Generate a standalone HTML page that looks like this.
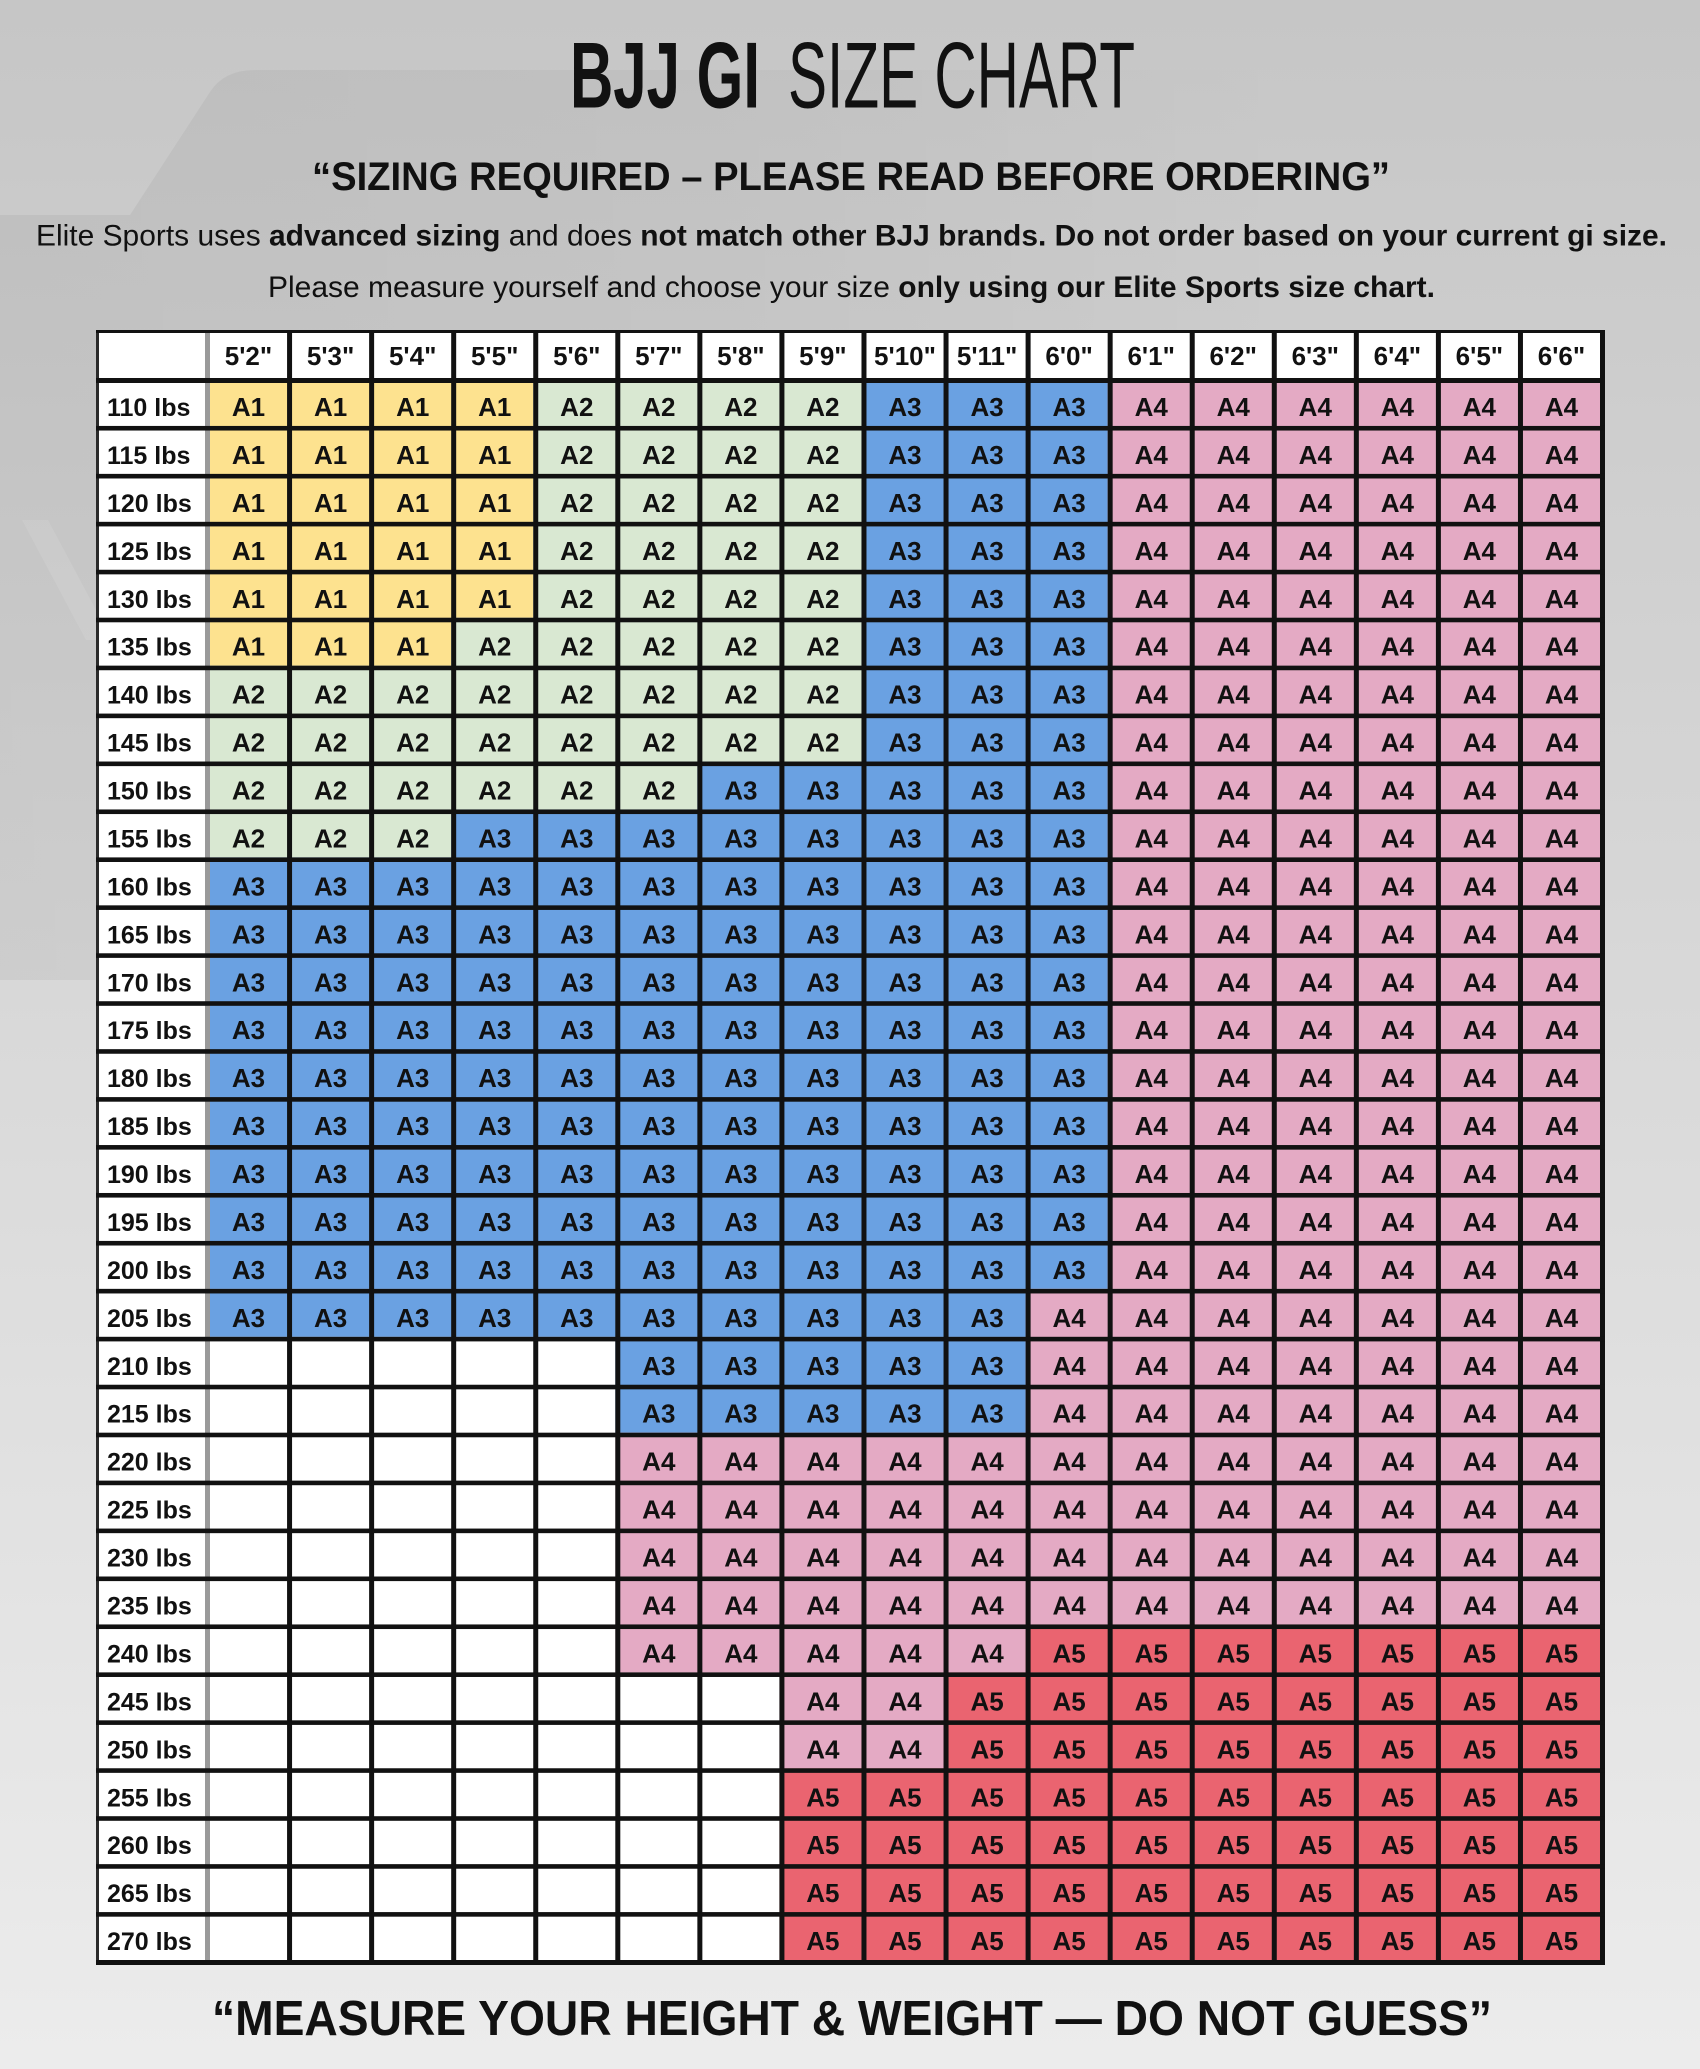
<!DOCTYPE html>
<html>
<head>
<meta charset="utf-8">
<style>
html,body{margin:0;padding:0;background:#d8d8d8}
body{width:1700px;height:2069px;overflow:hidden}
svg{display:block}
</style>
</head>
<body>
<svg width="1700" height="2069" viewBox="0 0 1700 2069" xmlns="http://www.w3.org/2000/svg">
<defs>
<linearGradient id="bg" x1="0" y1="0" x2="0" y2="1">
<stop offset="0" stop-color="#c6c6c6"/>
<stop offset="0.5" stop-color="#d9d9d9"/>
<stop offset="1" stop-color="#ececec"/>
</linearGradient>
<linearGradient id="logo" gradientUnits="userSpaceOnUse" x1="0" y1="0" x2="1300" y2="0">
<stop offset="0" stop-color="#000" stop-opacity="0.05"/>
<stop offset="0.55" stop-color="#000" stop-opacity="0.035"/>
<stop offset="1" stop-color="#000" stop-opacity="0"/>
</linearGradient>
</defs>
<rect width="1700" height="2069" fill="url(#bg)"/>
<path d="M0 215 L130 215 L210 92 Q224 70 255 70 L1300 70 L1300 330 L97 330 L97 980 L0 980 Z" fill="url(#logo)"/>
<path d="M22 520 L48 520 L112 640 L86 640 Z" fill="#fff" fill-opacity="0.1"/>

<!-- Headings -->
<g fill="#111" font-family="'Liberation Sans', Arial, sans-serif">
<text x="570" y="107.5" font-size="94" font-weight="bold" textLength="190" lengthAdjust="spacingAndGlyphs">BJJ GI</text>
<text x="788" y="107.5" font-size="94" textLength="347" lengthAdjust="spacingAndGlyphs">SIZE CHART</text>
<text x="312" y="190" font-size="40" font-weight="bold" textLength="1078" lengthAdjust="spacingAndGlyphs">“SIZING REQUIRED – PLEASE READ BEFORE ORDERING”</text>
<text x="36" y="245.5" font-size="30" textLength="1631" lengthAdjust="spacingAndGlyphs">Elite Sports uses <tspan font-weight="bold">advanced sizing</tspan> and does <tspan font-weight="bold">not match other BJJ brands. Do not order based on your current gi size.</tspan></text>
<text x="268" y="297" font-size="30" textLength="1167" lengthAdjust="spacingAndGlyphs">Please measure yourself and choose your size <tspan font-weight="bold">only using our Elite Sports size chart.</tspan></text>
<text x="212" y="2035" font-size="49" font-weight="bold" textLength="1280" lengthAdjust="spacingAndGlyphs">“MEASURE YOUR HEIGHT &amp; WEIGHT — DO NOT GUESS”</text>
</g>

<!-- Table background -->
<rect x="96" y="330" width="1509" height="1635" fill="#ffffff"/>

<!-- Yellow A1 -->
<g fill="#fde28f">
<rect x="205" y="378" width="328.24" height="239.7"/>
<rect x="205" y="617.7" width="246.18" height="47.94"/>
</g>
<!-- Green A2 -->
<g fill="#d9e8d2">
<rect x="533.24" y="378" width="328.24" height="239.7"/>
<rect x="451.18" y="617.7" width="410.3" height="47.94"/>
<rect x="205" y="665.64" width="656.48" height="95.88"/>
<rect x="205" y="761.52" width="492.36" height="47.94"/>
<rect x="205" y="809.46" width="246.18" height="47.94"/>
</g>
<!-- Blue A3 -->
<g fill="#6aa1e2">
<rect x="861.48" y="378" width="246.18" height="383.52"/>
<rect x="697.36" y="761.52" width="410.3" height="47.94"/>
<rect x="451.18" y="809.46" width="656.48" height="47.94"/>
<rect x="205" y="857.4" width="902.66" height="431.46"/>
<rect x="205" y="1288.86" width="820.6" height="47.94"/>
<rect x="615.3" y="1336.8" width="410.3" height="95.88"/>
</g>
<!-- Pink A4 -->
<g fill="#e4aac4">
<rect x="1107.66" y="378" width="492.36" height="910.86"/>
<rect x="1025.6" y="1288.86" width="574.42" height="335.58"/>
<rect x="615.3" y="1432.68" width="410.3" height="239.7"/>
<rect x="779.42" y="1672.38" width="164.12" height="95.88"/>
</g>
<!-- Red A5 -->
<g fill="#ea6470">
<rect x="1025.6" y="1624.44" width="574.42" height="47.94"/>
<rect x="943.54" y="1672.38" width="656.48" height="95.88"/>
<rect x="779.42" y="1768.26" width="820.6" height="191.76"/>
</g>

<!-- Gray separator -->
<rect x="205" y="333" width="5" height="1627" fill="#9a9a9a"/>

<!-- Vertical lines -->
<g fill="#111">
<rect x="287.06" y="330" width="5" height="1635"/>
<rect x="369.12" y="330" width="5" height="1635"/>
<rect x="451.18" y="330" width="5" height="1635"/>
<rect x="533.24" y="330" width="5" height="1635"/>
<rect x="615.3" y="330" width="5" height="1635"/>
<rect x="697.36" y="330" width="5" height="1635"/>
<rect x="779.42" y="330" width="5" height="1635"/>
<rect x="861.48" y="330" width="5" height="1635"/>
<rect x="943.54" y="330" width="5" height="1635"/>
<rect x="1025.6" y="330" width="5" height="1635"/>
<rect x="1107.66" y="330" width="5" height="1635"/>
<rect x="1189.72" y="330" width="5" height="1635"/>
<rect x="1271.78" y="330" width="5" height="1635"/>
<rect x="1353.84" y="330" width="5" height="1635"/>
<rect x="1435.9" y="330" width="5" height="1635"/>
<rect x="1517.96" y="330" width="5" height="1635"/>
<rect x="1600" y="330" width="5" height="1635"/>
<rect x="96" y="330" width="3" height="1635" fill="#2a2a2a"/>
</g>

<!-- Horizontal lines -->
<g fill="#111">
<rect x="96" y="330" width="1509" height="3"/>
<rect x="96" y="378" width="1509" height="5"/>
<rect x="96" y="425.94" width="1509" height="4.6"/>
<rect x="96" y="473.88" width="1509" height="4.6"/>
<rect x="96" y="521.82" width="1509" height="4.6"/>
<rect x="96" y="569.76" width="1509" height="4.6"/>
<rect x="96" y="617.7" width="1509" height="4.6"/>
<rect x="96" y="665.64" width="1509" height="4.6"/>
<rect x="96" y="713.58" width="1509" height="4.6"/>
<rect x="96" y="761.52" width="1509" height="4.6"/>
<rect x="96" y="809.46" width="1509" height="4.6"/>
<rect x="96" y="857.4" width="1509" height="4.6"/>
<rect x="96" y="905.34" width="1509" height="4.6"/>
<rect x="96" y="953.28" width="1509" height="4.6"/>
<rect x="96" y="1001.22" width="1509" height="4.6"/>
<rect x="96" y="1049.16" width="1509" height="4.6"/>
<rect x="96" y="1097.1" width="1509" height="4.6"/>
<rect x="96" y="1145.04" width="1509" height="4.6"/>
<rect x="96" y="1192.98" width="1509" height="4.6"/>
<rect x="96" y="1240.92" width="1509" height="4.6"/>
<rect x="96" y="1288.86" width="1509" height="4.6"/>
<rect x="96" y="1336.8" width="1509" height="4.6"/>
<rect x="96" y="1384.74" width="1509" height="4.6"/>
<rect x="96" y="1432.68" width="1509" height="4.6"/>
<rect x="96" y="1480.62" width="1509" height="4.6"/>
<rect x="96" y="1528.56" width="1509" height="4.6"/>
<rect x="96" y="1576.5" width="1509" height="4.6"/>
<rect x="96" y="1624.44" width="1509" height="4.6"/>
<rect x="96" y="1672.38" width="1509" height="4.6"/>
<rect x="96" y="1720.32" width="1509" height="4.6"/>
<rect x="96" y="1768.26" width="1509" height="4.6"/>
<rect x="96" y="1816.2" width="1509" height="4.6"/>
<rect x="96" y="1864.14" width="1509" height="4.6"/>
<rect x="96" y="1912.08" width="1509" height="4.6"/>
<rect x="96" y="1960" width="1509" height="5"/>
</g>

<!-- Header labels -->
<g fill="#111" font-family="'Liberation Sans', Arial, sans-serif" font-size="26" font-weight="bold" text-anchor="middle">
<text x="248.5" y="365">5'2"</text>
<text x="330.6" y="365">5'3"</text>
<text x="412.7" y="365">5'4"</text>
<text x="494.7" y="365">5'5"</text>
<text x="576.8" y="365">5'6"</text>
<text x="658.8" y="365">5'7"</text>
<text x="740.9" y="365">5'8"</text>
<text x="822.9" y="365">5'9"</text>
<text x="905.0" y="365">5'10"</text>
<text x="987.1" y="365">5'11"</text>
<text x="1069.1" y="365">6'0"</text>
<text x="1151.2" y="365">6'1"</text>
<text x="1233.2" y="365">6'2"</text>
<text x="1315.3" y="365">6'3"</text>
<text x="1397.4" y="365">6'4"</text>
<text x="1479.4" y="365">6'5"</text>
<text x="1561.5" y="365">6'6"</text>
</g>

<!-- Weight labels -->
<g fill="#111" font-family="'Liberation Sans', Arial, sans-serif" font-size="25" font-weight="bold">
<text x="107" y="416">110 lbs</text>
<text x="107" y="463.94">115 lbs</text>
<text x="107" y="511.88">120 lbs</text>
<text x="107" y="559.82">125 lbs</text>
<text x="107" y="607.76">130 lbs</text>
<text x="107" y="655.7">135 lbs</text>
<text x="107" y="703.64">140 lbs</text>
<text x="107" y="751.58">145 lbs</text>
<text x="107" y="799.52">150 lbs</text>
<text x="107" y="847.46">155 lbs</text>
<text x="107" y="895.4">160 lbs</text>
<text x="107" y="943.34">165 lbs</text>
<text x="107" y="991.28">170 lbs</text>
<text x="107" y="1039.22">175 lbs</text>
<text x="107" y="1087.16">180 lbs</text>
<text x="107" y="1135.1">185 lbs</text>
<text x="107" y="1183.04">190 lbs</text>
<text x="107" y="1230.98">195 lbs</text>
<text x="107" y="1278.92">200 lbs</text>
<text x="107" y="1326.86">205 lbs</text>
<text x="107" y="1374.8">210 lbs</text>
<text x="107" y="1422.74">215 lbs</text>
<text x="107" y="1470.68">220 lbs</text>
<text x="107" y="1518.62">225 lbs</text>
<text x="107" y="1566.56">230 lbs</text>
<text x="107" y="1614.5">235 lbs</text>
<text x="107" y="1662.44">240 lbs</text>
<text x="107" y="1710.38">245 lbs</text>
<text x="107" y="1758.32">250 lbs</text>
<text x="107" y="1806.26">255 lbs</text>
<text x="107" y="1854.2">260 lbs</text>
<text x="107" y="1902.14">265 lbs</text>
<text x="107" y="1950.08">270 lbs</text>
</g>

<!-- Cell values -->
<g fill="#111" font-family="'Liberation Sans', Arial, sans-serif" font-size="26" font-weight="bold" text-anchor="middle">
<g transform="translate(0,416)"><text x="248.5">A1</text><text x="330.6">A1</text><text x="412.7">A1</text><text x="494.7">A1</text><text x="576.8">A2</text><text x="658.8">A2</text><text x="740.9">A2</text><text x="822.9">A2</text><text x="905.0">A3</text><text x="987.1">A3</text><text x="1069.1">A3</text><text x="1151.2">A4</text><text x="1233.2">A4</text><text x="1315.3">A4</text><text x="1397.4">A4</text><text x="1479.4">A4</text><text x="1561.5">A4</text></g>
<g transform="translate(0,463.94)"><text x="248.5">A1</text><text x="330.6">A1</text><text x="412.7">A1</text><text x="494.7">A1</text><text x="576.8">A2</text><text x="658.8">A2</text><text x="740.9">A2</text><text x="822.9">A2</text><text x="905.0">A3</text><text x="987.1">A3</text><text x="1069.1">A3</text><text x="1151.2">A4</text><text x="1233.2">A4</text><text x="1315.3">A4</text><text x="1397.4">A4</text><text x="1479.4">A4</text><text x="1561.5">A4</text></g>
<g transform="translate(0,511.88)"><text x="248.5">A1</text><text x="330.6">A1</text><text x="412.7">A1</text><text x="494.7">A1</text><text x="576.8">A2</text><text x="658.8">A2</text><text x="740.9">A2</text><text x="822.9">A2</text><text x="905.0">A3</text><text x="987.1">A3</text><text x="1069.1">A3</text><text x="1151.2">A4</text><text x="1233.2">A4</text><text x="1315.3">A4</text><text x="1397.4">A4</text><text x="1479.4">A4</text><text x="1561.5">A4</text></g>
<g transform="translate(0,559.82)"><text x="248.5">A1</text><text x="330.6">A1</text><text x="412.7">A1</text><text x="494.7">A1</text><text x="576.8">A2</text><text x="658.8">A2</text><text x="740.9">A2</text><text x="822.9">A2</text><text x="905.0">A3</text><text x="987.1">A3</text><text x="1069.1">A3</text><text x="1151.2">A4</text><text x="1233.2">A4</text><text x="1315.3">A4</text><text x="1397.4">A4</text><text x="1479.4">A4</text><text x="1561.5">A4</text></g>
<g transform="translate(0,607.76)"><text x="248.5">A1</text><text x="330.6">A1</text><text x="412.7">A1</text><text x="494.7">A1</text><text x="576.8">A2</text><text x="658.8">A2</text><text x="740.9">A2</text><text x="822.9">A2</text><text x="905.0">A3</text><text x="987.1">A3</text><text x="1069.1">A3</text><text x="1151.2">A4</text><text x="1233.2">A4</text><text x="1315.3">A4</text><text x="1397.4">A4</text><text x="1479.4">A4</text><text x="1561.5">A4</text></g>
<g transform="translate(0,655.7)"><text x="248.5">A1</text><text x="330.6">A1</text><text x="412.7">A1</text><text x="494.7">A2</text><text x="576.8">A2</text><text x="658.8">A2</text><text x="740.9">A2</text><text x="822.9">A2</text><text x="905.0">A3</text><text x="987.1">A3</text><text x="1069.1">A3</text><text x="1151.2">A4</text><text x="1233.2">A4</text><text x="1315.3">A4</text><text x="1397.4">A4</text><text x="1479.4">A4</text><text x="1561.5">A4</text></g>
<g transform="translate(0,703.64)"><text x="248.5">A2</text><text x="330.6">A2</text><text x="412.7">A2</text><text x="494.7">A2</text><text x="576.8">A2</text><text x="658.8">A2</text><text x="740.9">A2</text><text x="822.9">A2</text><text x="905.0">A3</text><text x="987.1">A3</text><text x="1069.1">A3</text><text x="1151.2">A4</text><text x="1233.2">A4</text><text x="1315.3">A4</text><text x="1397.4">A4</text><text x="1479.4">A4</text><text x="1561.5">A4</text></g>
<g transform="translate(0,751.58)"><text x="248.5">A2</text><text x="330.6">A2</text><text x="412.7">A2</text><text x="494.7">A2</text><text x="576.8">A2</text><text x="658.8">A2</text><text x="740.9">A2</text><text x="822.9">A2</text><text x="905.0">A3</text><text x="987.1">A3</text><text x="1069.1">A3</text><text x="1151.2">A4</text><text x="1233.2">A4</text><text x="1315.3">A4</text><text x="1397.4">A4</text><text x="1479.4">A4</text><text x="1561.5">A4</text></g>
<g transform="translate(0,799.52)"><text x="248.5">A2</text><text x="330.6">A2</text><text x="412.7">A2</text><text x="494.7">A2</text><text x="576.8">A2</text><text x="658.8">A2</text><text x="740.9">A3</text><text x="822.9">A3</text><text x="905.0">A3</text><text x="987.1">A3</text><text x="1069.1">A3</text><text x="1151.2">A4</text><text x="1233.2">A4</text><text x="1315.3">A4</text><text x="1397.4">A4</text><text x="1479.4">A4</text><text x="1561.5">A4</text></g>
<g transform="translate(0,847.46)"><text x="248.5">A2</text><text x="330.6">A2</text><text x="412.7">A2</text><text x="494.7">A3</text><text x="576.8">A3</text><text x="658.8">A3</text><text x="740.9">A3</text><text x="822.9">A3</text><text x="905.0">A3</text><text x="987.1">A3</text><text x="1069.1">A3</text><text x="1151.2">A4</text><text x="1233.2">A4</text><text x="1315.3">A4</text><text x="1397.4">A4</text><text x="1479.4">A4</text><text x="1561.5">A4</text></g>
<g transform="translate(0,895.4)"><text x="248.5">A3</text><text x="330.6">A3</text><text x="412.7">A3</text><text x="494.7">A3</text><text x="576.8">A3</text><text x="658.8">A3</text><text x="740.9">A3</text><text x="822.9">A3</text><text x="905.0">A3</text><text x="987.1">A3</text><text x="1069.1">A3</text><text x="1151.2">A4</text><text x="1233.2">A4</text><text x="1315.3">A4</text><text x="1397.4">A4</text><text x="1479.4">A4</text><text x="1561.5">A4</text></g>
<g transform="translate(0,943.34)"><text x="248.5">A3</text><text x="330.6">A3</text><text x="412.7">A3</text><text x="494.7">A3</text><text x="576.8">A3</text><text x="658.8">A3</text><text x="740.9">A3</text><text x="822.9">A3</text><text x="905.0">A3</text><text x="987.1">A3</text><text x="1069.1">A3</text><text x="1151.2">A4</text><text x="1233.2">A4</text><text x="1315.3">A4</text><text x="1397.4">A4</text><text x="1479.4">A4</text><text x="1561.5">A4</text></g>
<g transform="translate(0,991.28)"><text x="248.5">A3</text><text x="330.6">A3</text><text x="412.7">A3</text><text x="494.7">A3</text><text x="576.8">A3</text><text x="658.8">A3</text><text x="740.9">A3</text><text x="822.9">A3</text><text x="905.0">A3</text><text x="987.1">A3</text><text x="1069.1">A3</text><text x="1151.2">A4</text><text x="1233.2">A4</text><text x="1315.3">A4</text><text x="1397.4">A4</text><text x="1479.4">A4</text><text x="1561.5">A4</text></g>
<g transform="translate(0,1039.22)"><text x="248.5">A3</text><text x="330.6">A3</text><text x="412.7">A3</text><text x="494.7">A3</text><text x="576.8">A3</text><text x="658.8">A3</text><text x="740.9">A3</text><text x="822.9">A3</text><text x="905.0">A3</text><text x="987.1">A3</text><text x="1069.1">A3</text><text x="1151.2">A4</text><text x="1233.2">A4</text><text x="1315.3">A4</text><text x="1397.4">A4</text><text x="1479.4">A4</text><text x="1561.5">A4</text></g>
<g transform="translate(0,1087.16)"><text x="248.5">A3</text><text x="330.6">A3</text><text x="412.7">A3</text><text x="494.7">A3</text><text x="576.8">A3</text><text x="658.8">A3</text><text x="740.9">A3</text><text x="822.9">A3</text><text x="905.0">A3</text><text x="987.1">A3</text><text x="1069.1">A3</text><text x="1151.2">A4</text><text x="1233.2">A4</text><text x="1315.3">A4</text><text x="1397.4">A4</text><text x="1479.4">A4</text><text x="1561.5">A4</text></g>
<g transform="translate(0,1135.1)"><text x="248.5">A3</text><text x="330.6">A3</text><text x="412.7">A3</text><text x="494.7">A3</text><text x="576.8">A3</text><text x="658.8">A3</text><text x="740.9">A3</text><text x="822.9">A3</text><text x="905.0">A3</text><text x="987.1">A3</text><text x="1069.1">A3</text><text x="1151.2">A4</text><text x="1233.2">A4</text><text x="1315.3">A4</text><text x="1397.4">A4</text><text x="1479.4">A4</text><text x="1561.5">A4</text></g>
<g transform="translate(0,1183.04)"><text x="248.5">A3</text><text x="330.6">A3</text><text x="412.7">A3</text><text x="494.7">A3</text><text x="576.8">A3</text><text x="658.8">A3</text><text x="740.9">A3</text><text x="822.9">A3</text><text x="905.0">A3</text><text x="987.1">A3</text><text x="1069.1">A3</text><text x="1151.2">A4</text><text x="1233.2">A4</text><text x="1315.3">A4</text><text x="1397.4">A4</text><text x="1479.4">A4</text><text x="1561.5">A4</text></g>
<g transform="translate(0,1230.98)"><text x="248.5">A3</text><text x="330.6">A3</text><text x="412.7">A3</text><text x="494.7">A3</text><text x="576.8">A3</text><text x="658.8">A3</text><text x="740.9">A3</text><text x="822.9">A3</text><text x="905.0">A3</text><text x="987.1">A3</text><text x="1069.1">A3</text><text x="1151.2">A4</text><text x="1233.2">A4</text><text x="1315.3">A4</text><text x="1397.4">A4</text><text x="1479.4">A4</text><text x="1561.5">A4</text></g>
<g transform="translate(0,1278.92)"><text x="248.5">A3</text><text x="330.6">A3</text><text x="412.7">A3</text><text x="494.7">A3</text><text x="576.8">A3</text><text x="658.8">A3</text><text x="740.9">A3</text><text x="822.9">A3</text><text x="905.0">A3</text><text x="987.1">A3</text><text x="1069.1">A3</text><text x="1151.2">A4</text><text x="1233.2">A4</text><text x="1315.3">A4</text><text x="1397.4">A4</text><text x="1479.4">A4</text><text x="1561.5">A4</text></g>
<g transform="translate(0,1326.86)"><text x="248.5">A3</text><text x="330.6">A3</text><text x="412.7">A3</text><text x="494.7">A3</text><text x="576.8">A3</text><text x="658.8">A3</text><text x="740.9">A3</text><text x="822.9">A3</text><text x="905.0">A3</text><text x="987.1">A3</text><text x="1069.1">A4</text><text x="1151.2">A4</text><text x="1233.2">A4</text><text x="1315.3">A4</text><text x="1397.4">A4</text><text x="1479.4">A4</text><text x="1561.5">A4</text></g>
<g transform="translate(0,1374.8)"><text x="658.8">A3</text><text x="740.9">A3</text><text x="822.9">A3</text><text x="905.0">A3</text><text x="987.1">A3</text><text x="1069.1">A4</text><text x="1151.2">A4</text><text x="1233.2">A4</text><text x="1315.3">A4</text><text x="1397.4">A4</text><text x="1479.4">A4</text><text x="1561.5">A4</text></g>
<g transform="translate(0,1422.74)"><text x="658.8">A3</text><text x="740.9">A3</text><text x="822.9">A3</text><text x="905.0">A3</text><text x="987.1">A3</text><text x="1069.1">A4</text><text x="1151.2">A4</text><text x="1233.2">A4</text><text x="1315.3">A4</text><text x="1397.4">A4</text><text x="1479.4">A4</text><text x="1561.5">A4</text></g>
<g transform="translate(0,1470.68)"><text x="658.8">A4</text><text x="740.9">A4</text><text x="822.9">A4</text><text x="905.0">A4</text><text x="987.1">A4</text><text x="1069.1">A4</text><text x="1151.2">A4</text><text x="1233.2">A4</text><text x="1315.3">A4</text><text x="1397.4">A4</text><text x="1479.4">A4</text><text x="1561.5">A4</text></g>
<g transform="translate(0,1518.62)"><text x="658.8">A4</text><text x="740.9">A4</text><text x="822.9">A4</text><text x="905.0">A4</text><text x="987.1">A4</text><text x="1069.1">A4</text><text x="1151.2">A4</text><text x="1233.2">A4</text><text x="1315.3">A4</text><text x="1397.4">A4</text><text x="1479.4">A4</text><text x="1561.5">A4</text></g>
<g transform="translate(0,1566.56)"><text x="658.8">A4</text><text x="740.9">A4</text><text x="822.9">A4</text><text x="905.0">A4</text><text x="987.1">A4</text><text x="1069.1">A4</text><text x="1151.2">A4</text><text x="1233.2">A4</text><text x="1315.3">A4</text><text x="1397.4">A4</text><text x="1479.4">A4</text><text x="1561.5">A4</text></g>
<g transform="translate(0,1614.5)"><text x="658.8">A4</text><text x="740.9">A4</text><text x="822.9">A4</text><text x="905.0">A4</text><text x="987.1">A4</text><text x="1069.1">A4</text><text x="1151.2">A4</text><text x="1233.2">A4</text><text x="1315.3">A4</text><text x="1397.4">A4</text><text x="1479.4">A4</text><text x="1561.5">A4</text></g>
<g transform="translate(0,1662.44)"><text x="658.8">A4</text><text x="740.9">A4</text><text x="822.9">A4</text><text x="905.0">A4</text><text x="987.1">A4</text><text x="1069.1">A5</text><text x="1151.2">A5</text><text x="1233.2">A5</text><text x="1315.3">A5</text><text x="1397.4">A5</text><text x="1479.4">A5</text><text x="1561.5">A5</text></g>
<g transform="translate(0,1710.38)"><text x="822.9">A4</text><text x="905.0">A4</text><text x="987.1">A5</text><text x="1069.1">A5</text><text x="1151.2">A5</text><text x="1233.2">A5</text><text x="1315.3">A5</text><text x="1397.4">A5</text><text x="1479.4">A5</text><text x="1561.5">A5</text></g>
<g transform="translate(0,1758.32)"><text x="822.9">A4</text><text x="905.0">A4</text><text x="987.1">A5</text><text x="1069.1">A5</text><text x="1151.2">A5</text><text x="1233.2">A5</text><text x="1315.3">A5</text><text x="1397.4">A5</text><text x="1479.4">A5</text><text x="1561.5">A5</text></g>
<g transform="translate(0,1806.26)"><text x="822.9">A5</text><text x="905.0">A5</text><text x="987.1">A5</text><text x="1069.1">A5</text><text x="1151.2">A5</text><text x="1233.2">A5</text><text x="1315.3">A5</text><text x="1397.4">A5</text><text x="1479.4">A5</text><text x="1561.5">A5</text></g>
<g transform="translate(0,1854.2)"><text x="822.9">A5</text><text x="905.0">A5</text><text x="987.1">A5</text><text x="1069.1">A5</text><text x="1151.2">A5</text><text x="1233.2">A5</text><text x="1315.3">A5</text><text x="1397.4">A5</text><text x="1479.4">A5</text><text x="1561.5">A5</text></g>
<g transform="translate(0,1902.14)"><text x="822.9">A5</text><text x="905.0">A5</text><text x="987.1">A5</text><text x="1069.1">A5</text><text x="1151.2">A5</text><text x="1233.2">A5</text><text x="1315.3">A5</text><text x="1397.4">A5</text><text x="1479.4">A5</text><text x="1561.5">A5</text></g>
<g transform="translate(0,1950.08)"><text x="822.9">A5</text><text x="905.0">A5</text><text x="987.1">A5</text><text x="1069.1">A5</text><text x="1151.2">A5</text><text x="1233.2">A5</text><text x="1315.3">A5</text><text x="1397.4">A5</text><text x="1479.4">A5</text><text x="1561.5">A5</text></g>
</g>
</svg>
</body>
</html>
